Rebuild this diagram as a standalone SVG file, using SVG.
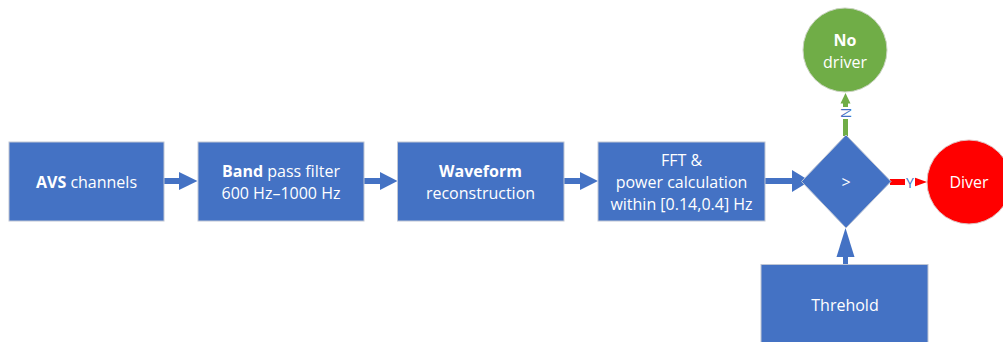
<svg xmlns="http://www.w3.org/2000/svg" width="1003" height="342" viewBox="0 0 1003 342">
  <style>
    .box { fill: #4472C4; stroke: #BFC6D4; stroke-width: 1; }
    .t { font-family: "Open Sans", "Noto Sans", "DejaVu Sans", sans-serif; font-size: 16px; fill: #FFFFFF; text-anchor: middle; dominant-baseline: central; }
    .b { font-weight: bold; }
    .blue { fill: #4472C4; }
    .green { fill: #70AD47; }
    .red { fill: #FF0000; }
    .lbl { font-family: "Open Sans", "Noto Sans", sans-serif; font-size: 14px; fill: #4472C4; text-anchor: middle; dominant-baseline: central; }
  </style>
  <rect width="1003" height="342" fill="#FFFFFF"/>
  <g id="connectors">
    <rect class="blue" x="164" y="178" width="17" height="6"/>
    <polygon class="blue" points="179,172 197.5,181 179,190"/>
    <rect class="blue" x="364" y="178" width="17" height="6"/>
    <polygon class="blue" points="380,172 397.5,181 380,190"/>
    <rect class="blue" x="564" y="178" width="17" height="6"/>
    <polygon class="blue" points="580,172 598,181 580,190"/>
    <rect class="blue" x="765" y="178" width="28" height="6"/>
    <polygon class="blue" points="792,170 810,181 792,192"/>
    <rect class="blue" x="843" y="255" width="5" height="10"/>
    <polygon class="blue" points="836.5,257 845.5,228 854.5,257"/>
    <rect class="green" x="843" y="102" width="5" height="34"/>
    <polygon class="green" points="840.5,103.5 845.5,93 850.5,103.5"/>
    <rect x="839" y="107" width="13" height="12" fill="#FFFFFF"/>
    <text class="lbl" transform="translate(845.5,113) rotate(-90)">N</text>
    <rect class="red" x="890" y="179" width="16" height="6"/>
    <polygon class="red" points="914.5,177.5 927,182 914.5,186.5"/>
    <rect x="905" y="175" width="10" height="14" fill="#FFFFFF"/>
    <text class="lbl" x="910" y="182">Y</text>
  </g>
  <g id="avs">
    <rect class="box" x="9" y="142" width="155" height="79"/>
    <text class="t" x="86.5" y="182"><tspan class="b">AVS</tspan> channels</text>
  </g>
  <g id="bandpass">
    <rect class="box" x="198" y="142" width="166" height="79"/>
    <text class="t" x="281" y="171"><tspan class="b">Band</tspan> pass filter</text>
    <text class="t" x="281" y="193">600 Hz–1000 Hz</text>
  </g>
  <g id="waveform">
    <rect class="box" x="397.5" y="142" width="166.5" height="79"/>
    <text class="t b" x="480.5" y="171">Waveform</text>
    <text class="t" x="480.5" y="193">reconstruction</text>
  </g>
  <g id="fft">
    <rect class="box" x="598" y="142" width="167" height="79"/>
    <text class="t" x="681.5" y="160">FFT &amp;</text>
    <text class="t" x="681.5" y="182">power calculation</text>
    <text class="t" x="681.5" y="204">within [0.14,0.4] Hz</text>
  </g>
  <g id="compare">
    <polygon class="box" points="846,135 891,181.5 846,228 801.5,181.5"/>
    <text class="t" x="846" y="182">&gt;</text>
  </g>
  <g id="threshold">
    <rect class="box" x="761" y="264.5" width="167" height="90"/>
    <text class="t" x="845" y="305">Threhold</text>
  </g>
  <g id="nodriver">
    <circle cx="845" cy="50" r="42" fill="#70AD47" stroke="#C9D3C0" stroke-width="1"/>
    <text class="t b" x="845" y="39.5">No</text>
    <text class="t" x="845" y="61.5">driver</text>
  </g>
  <g id="diver">
    <circle cx="969" cy="182" r="42" fill="#FF0000" stroke="#E0C0C0" stroke-width="1"/>
    <text class="t" x="969" y="182">Diver</text>
  </g>
</svg>
